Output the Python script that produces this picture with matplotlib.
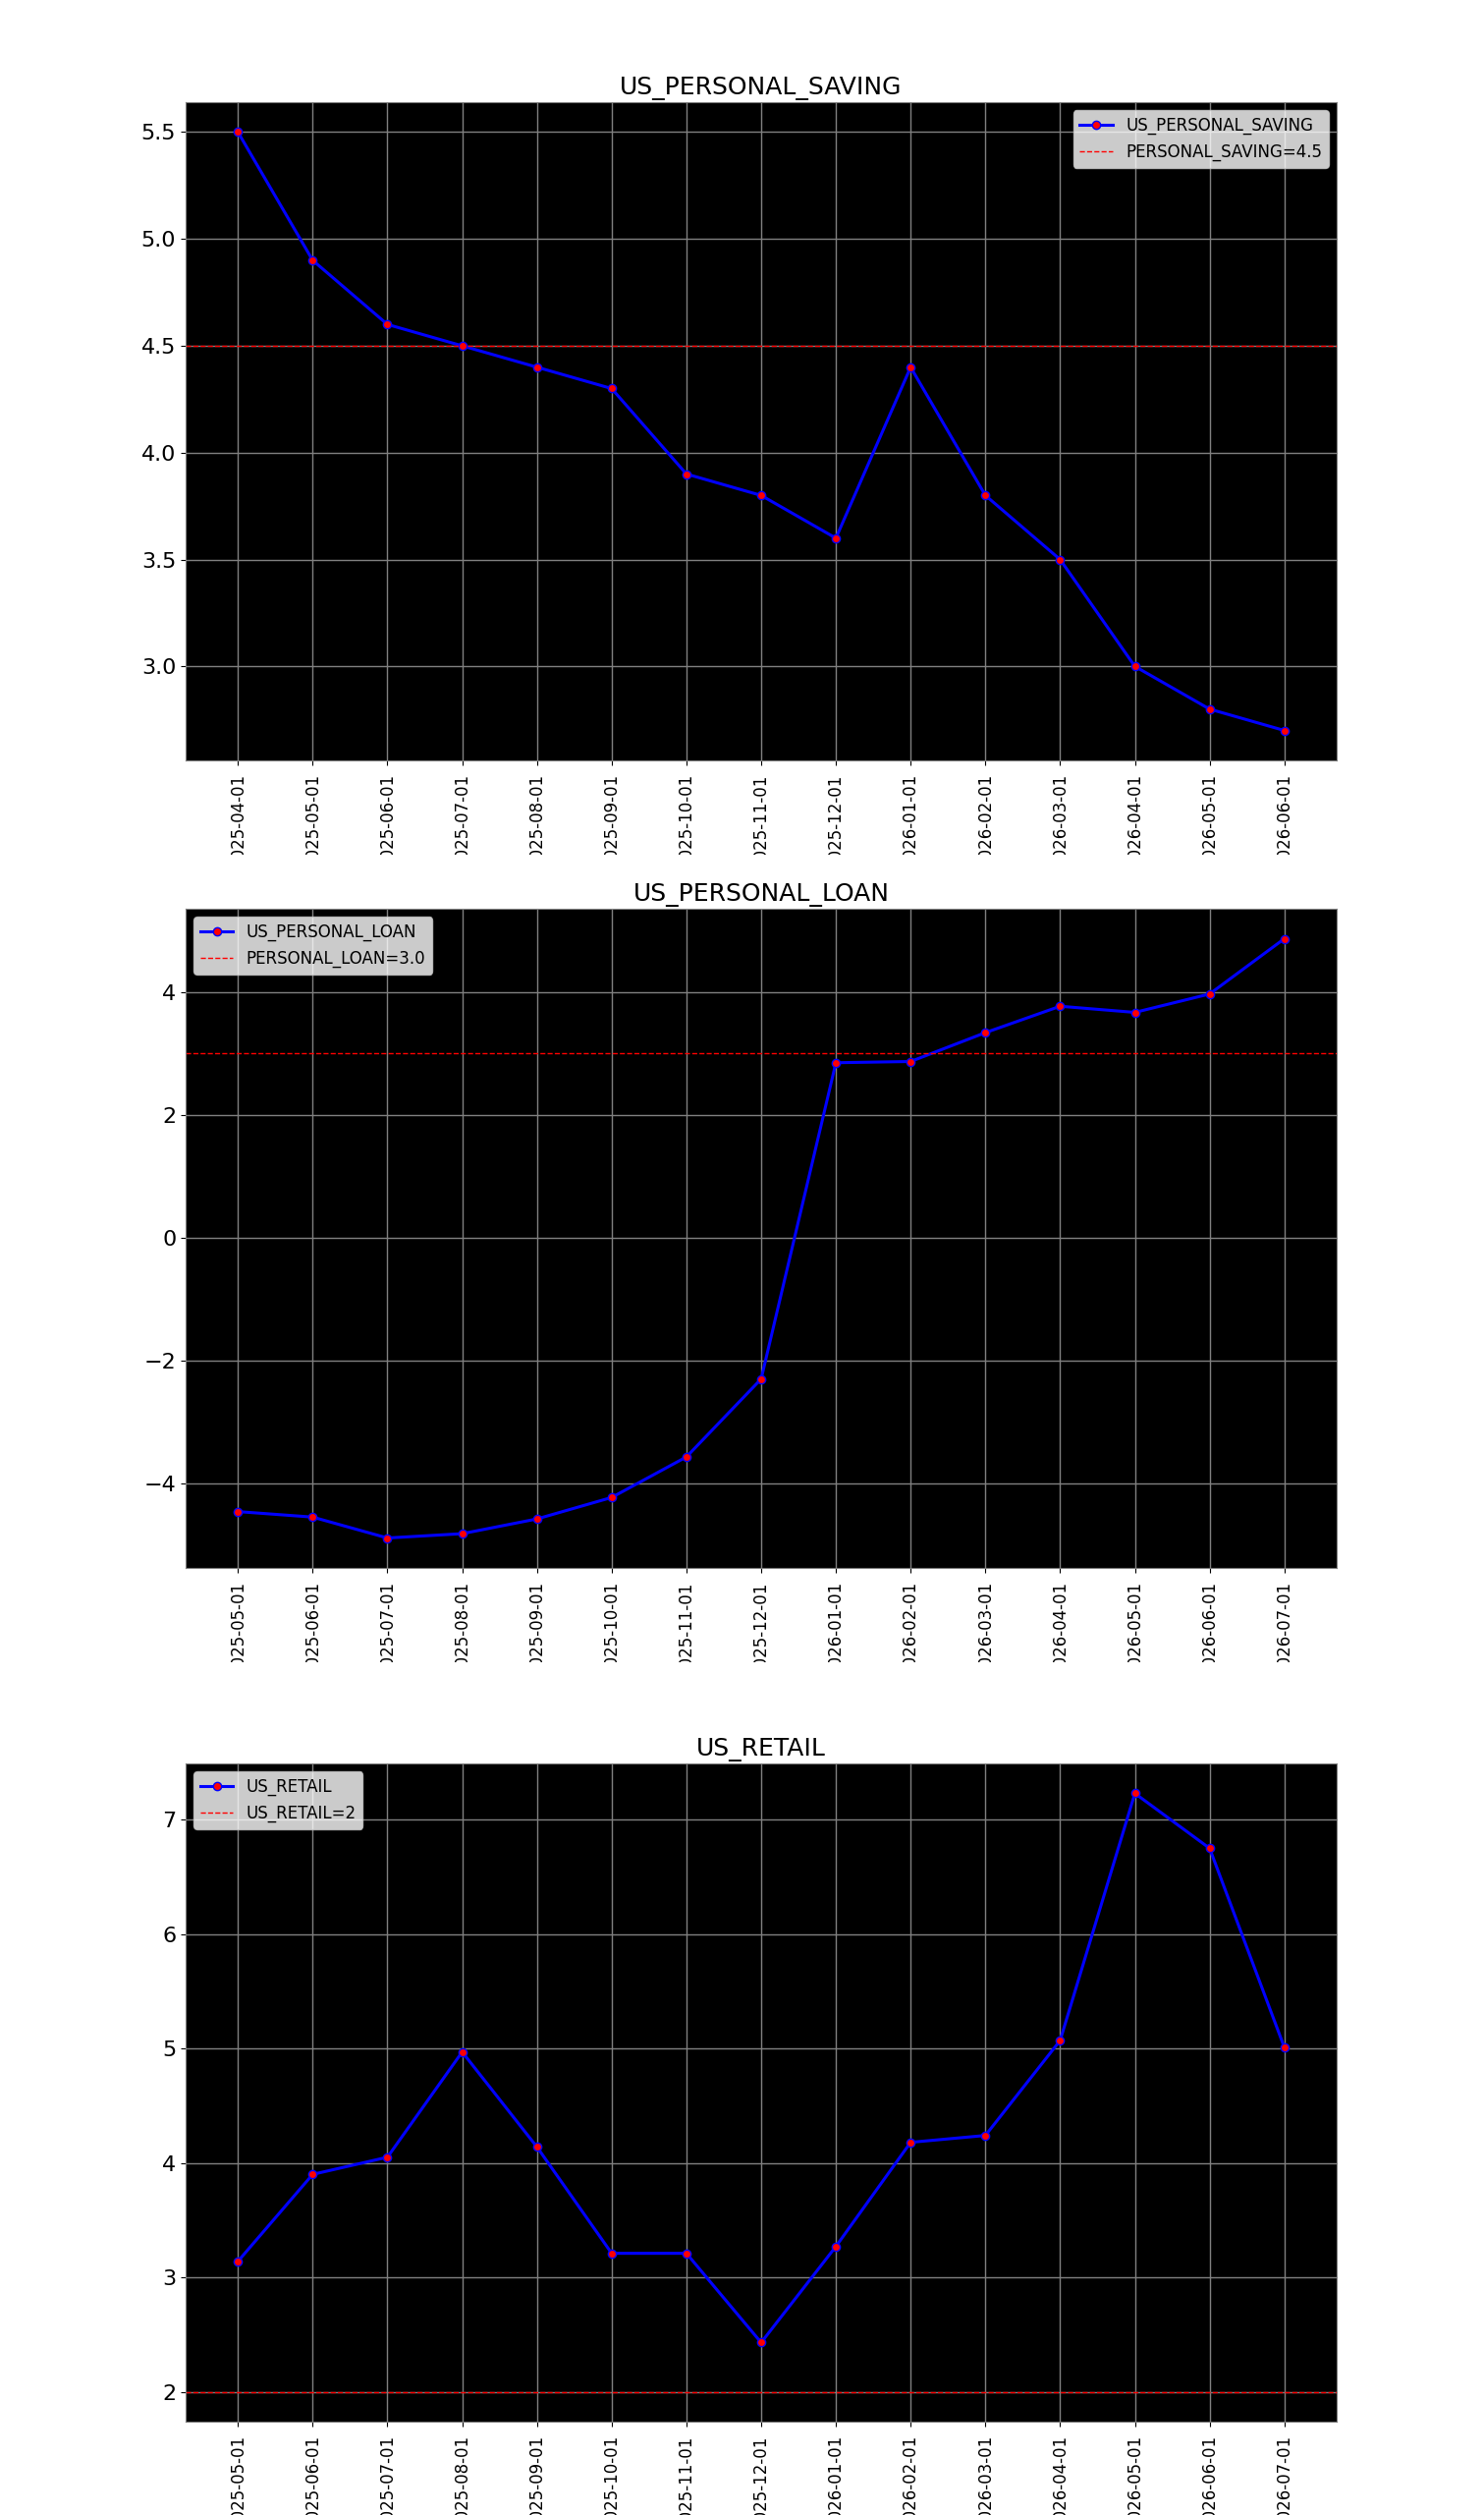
import matplotlib
matplotlib.use("Agg")
import matplotlib.pyplot as plt
from matplotlib.transforms import Bbox, TransformedBbox

# Personal saving rate
saving_dates = ["2025-04-01", "2025-05-01", "2025-06-01", "2025-07-01", "2025-08-01",
                "2025-09-01", "2025-10-01", "2025-11-01", "2025-12-01", "2026-01-01",
                "2026-02-01", "2026-03-01", "2026-04-01", "2026-05-01", "2026-06-01"]
saving_values = [5.5, 4.9, 4.6, 4.5, 4.4, 4.3, 3.9, 3.8, 3.6, 4.4, 3.8, 3.5, 3.0, 2.8, 2.7]
saving_ref = 4.5

# Personal loan growth
loan_dates = ["2025-05-01", "2025-06-01", "2025-07-01", "2025-08-01", "2025-09-01",
              "2025-10-01", "2025-11-01", "2025-12-01", "2026-01-01", "2026-02-01",
              "2026-03-01", "2026-04-01", "2026-05-01", "2026-06-01", "2026-07-01"]
loan_values = [-4.46, -4.55, -4.89, -4.82, -4.58, -4.23, -3.57, -2.30, 2.85, 2.87,
               3.34, 3.77, 3.67, 3.97, 4.87]
loan_ref = 3.0

# Retail sales
retail_dates = ["2025-05-01", "2025-06-01", "2025-07-01", "2025-08-01", "2025-09-01",
                "2025-10-01", "2025-11-01", "2025-12-01", "2026-01-01", "2026-02-01",
                "2026-03-01", "2026-04-01", "2026-05-01", "2026-06-01", "2026-07-01"]
retail_values = [3.14, 3.90, 4.05, 4.97, 4.14, 3.21, 3.21, 2.43, 3.27, 4.18,
                 4.24, 5.07, 7.23, 6.75, 5.01]
retail_ref = 2

W, H = 1511, 2560
fig = plt.figure(figsize=(W / 100, H / 100), dpi=100)

# axes boxes in pixels: (top, bottom, cut line for tick labels)
panels = [
    ("US_PERSONAL_SAVING", saving_dates, saving_values, saving_ref, "PERSONAL_SAVING=4.5", "upper right", 104, 774, 870),
    ("US_PERSONAL_LOAN", loan_dates, loan_values, loan_ref, "PERSONAL_LOAN=3.0", "upper left", 925, 1596, 1692),
    ("US_RETAIL", retail_dates, retail_values, retail_ref, "US_RETAIL=2", "upper left", 1795, 2465, 2560),
]

left, right = 189, 1361
for name, dates, values, ref, ref_label, loc, top, bottom, cut in panels:
    ax = fig.add_axes([left / W, 1 - bottom / H, (right - left) / W, (bottom - top) / H])
    ax.set_facecolor("black")
    ax.plot(dates, values, color="blue", linewidth=2.2, marker="o", markersize=6,
            markerfacecolor="red", markeredgecolor="blue", markeredgewidth=1, label=name)
    ax.axhline(ref, color="red", linestyle="--", linewidth=1, label=ref_label)
    ax.set_title(name, fontsize=18)
    ax.grid(True, color="gray", linewidth=1)
    for s in ax.spines.values():
        s.set_color("gray")
    ax.tick_params(axis="y", labelsize=16)
    ax.tick_params(axis="x", labelsize=12, labelrotation=90, pad=6)
    ax.legend(loc=loc, fontsize=12)
    # labels are cut off below, like in the source image
    clip = TransformedBbox(Bbox.from_extents(0, 1 - cut / H, 1, 1 - bottom / H), fig.transFigure)
    for lab in ax.get_xticklabels():
        lab.set_clip_on(True)
        lab.set_clip_box(clip)

fig.savefig("out.png", dpi=100)
